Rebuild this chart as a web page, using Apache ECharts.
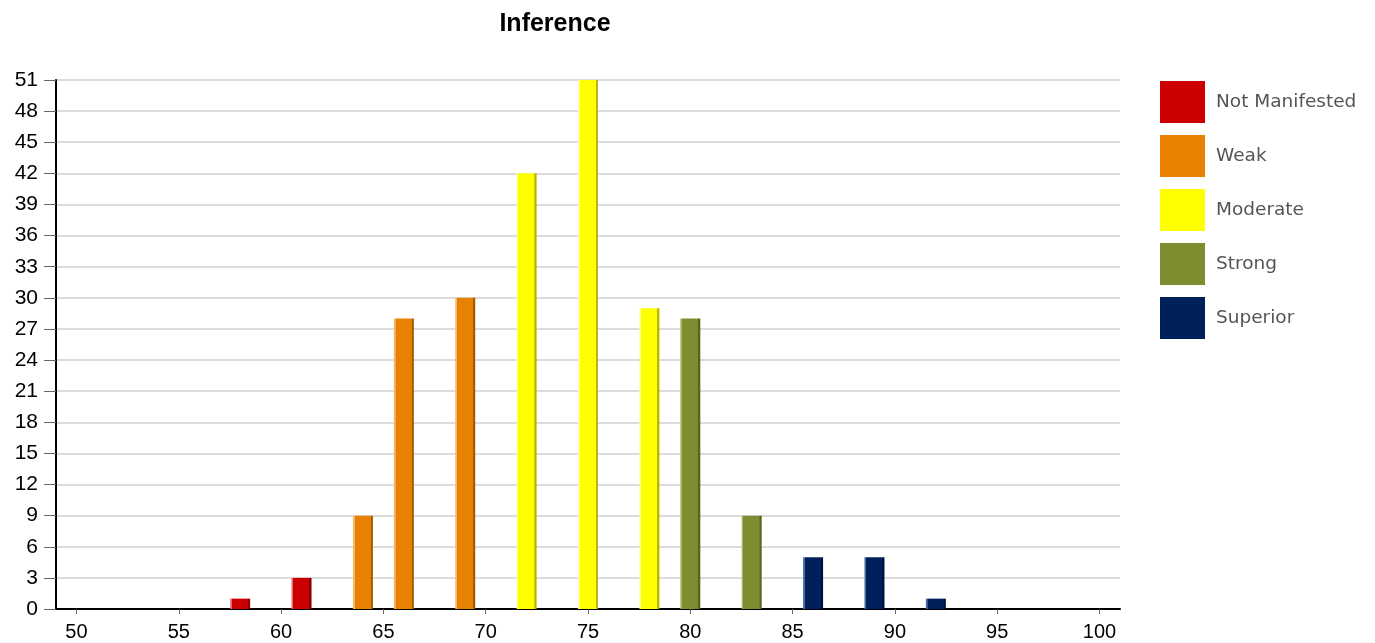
<!DOCTYPE html>
<html>
<head>
<meta charset="utf-8">
<script src="https://cdn.jsdelivr.net/npm/echarts@6/dist/echarts.min.js"></script>
<style>html,body{margin:0;padding:0;background:#fff;}#c{width:1375px;height:643px;}</style>
</head>
<body>
<div id="c"></div>
<script>
var seriesNames = ['Not Manifested', 'Weak', 'Moderate', 'Strong', 'Superior'];
var seriesColors = ['#cc0000', '#e88000', '#ffff00', '#7f8c2f', '#00205b'];
var lightColors = ['#e86a6a', '#f5b868', '#ffff99', '#a9b56a', '#4a6aa0'];
var darkColors = ['#8a0000', '#a65a00', '#b8b800', '#5a6420', '#001040'];
var notManifested = [[58, 1], [61, 3]];
var weak = [[64, 9], [66, 28], [69, 30]];
var moderate = [[72, 42], [75, 51], [78, 29]];
var strong = [[80, 28], [83, 9]];
var superior = [[86, 5], [89, 5], [92, 1]];
var xTickLabels = [50, 55, 60, 65, 70, 75, 80, 85, 90, 95, 100];

var allData = [notManifested, weak, moderate, strong, superior];

function grad(i) {
  return new echarts.graphic.LinearGradient(0, 0, 1, 0, [
    {offset: 0, color: lightColors[i]},
    {offset: 0.08, color: lightColors[i]},
    {offset: 0.09, color: seriesColors[i]},
    {offset: 0.88, color: seriesColors[i]},
    {offset: 0.9, color: darkColors[i]},
    {offset: 1, color: darkColors[i]}
  ]);
}

var series = seriesNames.map(function (name, i) {
  return {
    name: name,
    type: 'bar',
    data: allData[i],
    barWidth: 20,
    barGap: '-100%',
    color: seriesColors[i],
    itemStyle: {color: grad(i)}
  };
});

var chart = echarts.init(document.getElementById('c'));
chart.setOption({
  animation: false,
  title: {
    text: 'Inference',
    left: 550,
    textAlign: 'center',
    top: 7,
    textStyle: {fontFamily: 'Liberation Sans', fontSize: 25, fontWeight: 'bold', color: '#000'}
  },
  legend: {
    orient: 'vertical',
    left: 1160,
    top: 81,
    padding: 0,
    itemWidth: 45,
    itemHeight: 42,
    itemGap: 12,
    icon: 'rect',
    data: seriesNames.map(function (n, i) { return {name: n, itemStyle: {color: seriesColors[i]}}; }),
    textStyle: {fontFamily: 'DejaVu Sans', fontSize: 18.5, color: '#555', padding: [4, 0, 0, 6]}
  },
  grid: {left: 56, right: 255, top: 80, bottom: 34, outerBoundsMode: 'none'},
  xAxis: {
    type: 'value',
    min: 49,
    max: 101,
    splitLine: {show: false},
    axisLine: {show: true, lineStyle: {color: '#000', width: 2}},
    axisTick: {show: true, customValues: xTickLabels, length: 5, lineStyle: {color: '#666'}},
    axisLabel: {customValues: xTickLabels, fontFamily: 'Liberation Sans', fontSize: 20, color: '#000', margin: 13}
  },
  yAxis: {
    type: 'value',
    min: 0,
    max: 51,
    interval: 3,
    axisLine: {show: true, lineStyle: {color: '#000', width: 2}},
    axisTick: {show: true, length: 12, lineStyle: {color: '#666'}},
    axisLabel: {fontFamily: 'Liberation Sans', fontSize: 21, color: '#000', margin: 18},
    splitLine: {show: true, lineStyle: {color: '#dcdcdc', width: 2}}
  },
  series: series
});
</script>
</body>
</html>
